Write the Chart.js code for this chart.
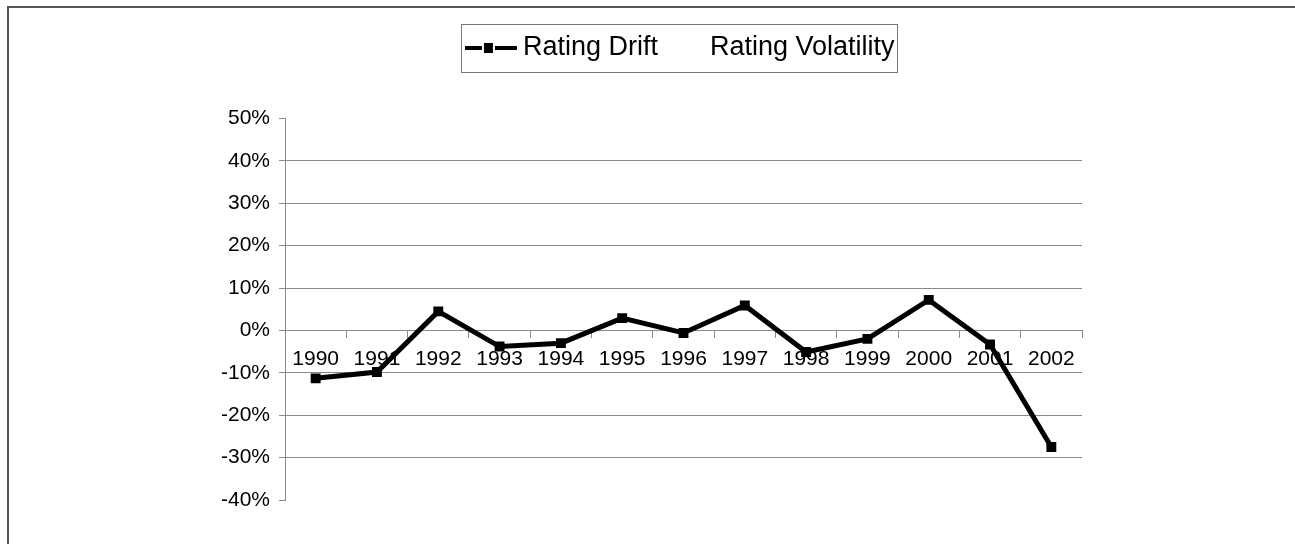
<!DOCTYPE html>
<html>
<head>
<meta charset="utf-8">
<title>Rating Drift</title>
<script src="https://cdn.jsdelivr.net/npm/chart.js@4.4.1/dist/chart.umd.min.js"></script>
<style>
  html, body { margin: 0; padding: 0; background: #fff; }
  #wrap { position: relative; width: 1295px; height: 544px; overflow: hidden; }
  #wrap canvas { position: absolute; left: 0; top: 0; }
  /* the outer frame of the original figure, only top and left edges show */
  #frame {
    position: absolute; left: 7px; top: 6px; width: 1300px; height: 560px;
    border-top: 2px solid #555; border-left: 2px solid #555;
    pointer-events: none;
  }
</style>
</head>
<body>
<div id="wrap">
  <canvas id="chart" width="1295" height="544"></canvas>
  <div id="frame"></div>
</div>
<script>
/* =============================================
   DATA
   ============================================= */
const years = ['1990', '1991', '1992', '1993', '1994', '1995', '1996',
               '1997', '1998', '1999', '2000', '2001', '2002'];

// percent
const ratingDrift = [-11.3, -9.8, 4.5, -3.8, -3.0, 2.9, -0.6, 5.9, -5.1, -2.0, 7.2, -3.3, -27.5];

// drawn white on white in the original, values can't be read
const ratingVolatility = [null, null, null, null, null, null, null,
                          null, null, null, null, null, null];

const yMin = -40;
const yMax = 50;
const yStep = 10;

const FONT = "'Liberation Sans', Arial, sans-serif";
const GRID = '#8a8a8a';

/* =============================================
   LEGEND SYMBOLS
   ============================================= */
function makeDriftSymbol() {
  const c = document.createElement('canvas');
  c.width = 52; c.height = 12;
  const g = c.getContext('2d');
  g.fillStyle = '#000';
  g.fillRect(0, 4, 17, 4);
  g.fillRect(19, 1, 9, 10);
  g.fillRect(30, 4, 22, 4);
  return c;
}

function makeBlankSymbol() {
  const c = document.createElement('canvas');
  c.width = 2; c.height = 2;
  return c;
}

const driftSymbol = makeDriftSymbol();
const blankSymbol = makeBlankSymbol();

/* =============================================
   PLUGINS
   ============================================= */
// push the plot area down below the legend
const legendSpacer = {
  id: 'legendSpacer',
  beforeInit(chart) {
    const legend = chart.legend;
    if (!legend) return;
    const fit = legend.fit;
    legend.fit = function () {
      fit.call(this);
      this.height += 47;
    };
  }
};

// thin box round the legend items
const legendFrame = {
  id: 'legendFrame',
  afterDraw(chart) {
    const boxes = chart.legend && chart.legend.legendHitBoxes;
    if (!boxes || !boxes.length) return;
    const first = boxes[0];
    const last = boxes[boxes.length - 1];
    const cy = first.top + first.height / 2;
    const ctx = chart.ctx;
    ctx.save();
    ctx.strokeStyle = '#777';
    ctx.lineWidth = 1;
    const x0 = Math.round(first.left - 11) + 0.5;
    const x1 = Math.round(last.left + last.width + 2) + 0.5;
    const y0 = Math.round(cy - 24) + 0.5;
    const y1 = Math.round(cy + 24) + 0.5;
    ctx.strokeRect(x0, y0, x1 - x0, y1 - y0);
    ctx.restore();
  }
};

/* =============================================
   CHART
   ============================================= */
new Chart(document.getElementById('chart').getContext('2d'), {
  data: {
    labels: years,
    datasets: [
      {
        type: 'line',
        label: 'Rating Drift',
        data: ratingDrift,
        borderColor: '#000',
        borderWidth: 5,
        tension: 0,
        pointStyle: 'rect',
        pointRadius: 7,
        pointBackgroundColor: '#000',
        pointBorderColor: '#000',
        pointBorderWidth: 0,
        order: 0
      },
      {
        type: 'bar',
        label: 'Rating Volatility',
        data: ratingVolatility,
        backgroundColor: '#fff',
        borderWidth: 0,
        order: 1
      }
    ]
  },
  options: {
    responsive: false,
    animation: false,
    layout: { padding: { left: 185, right: 213, top: 33, bottom: 44 } },
    plugins: {
      tooltip: { enabled: false },
      legend: {
        display: true,
        position: 'top',
        fullSize: false,
        labels: {
          usePointStyle: true,
          pointStyleWidth: 37,
          padding: 1.5,
          color: '#000',
          font: { family: FONT, size: 27 },
          generateLabels(chart) {
            return chart.data.datasets.map((ds, i) => ({
              text: ds.label,
              datasetIndex: i,
              pointStyle: i === 0 ? driftSymbol : blankSymbol,
              fillStyle: 'transparent',
              strokeStyle: 'transparent',
              lineWidth: 0,
              fontColor: '#000',
              hidden: false
            }));
          }
        }
      }
    },
    scales: {
      x: {
        type: 'category',
        position: { y: 0 },
        offset: true,
        grid: {
          display: true,
          offset: true,
          drawOnChartArea: false,
          drawTicks: true,
          tickLength: 7,
          color: GRID
        },
        border: { display: true, color: GRID, width: 1 },
        ticks: {
          color: '#000',
          font: { family: FONT, size: 21 },
          padding: 9,
          maxRotation: 0,
          autoSkip: false
        }
      },
      y: {
        type: 'linear',
        min: yMin,
        max: yMax,
        afterFit(scale) { scale.width = 100; },
        grid: {
          color: ctx => (ctx.tick && (ctx.tick.value === yMax || ctx.tick.value === yMin)) ? 'rgba(0,0,0,0)' : GRID,
          tickColor: GRID,
          tickLength: 6,
          drawTicks: true
        },
        border: { display: true, color: GRID, width: 1 },
        ticks: {
          stepSize: yStep,
          color: '#000',
          font: { family: FONT, size: 21 },
          padding: 9,
          callback: v => v + '%'
        }
      }
    }
  },
  plugins: [legendSpacer, legendFrame]
});
</script>
</body>
</html>
